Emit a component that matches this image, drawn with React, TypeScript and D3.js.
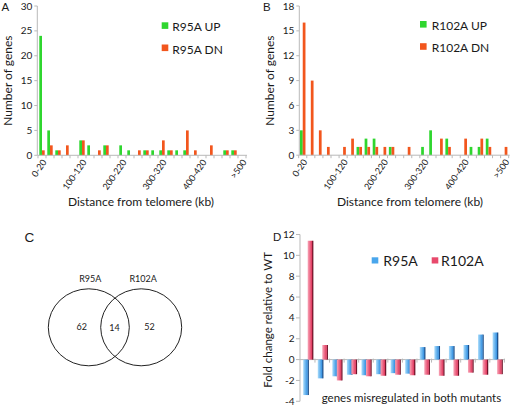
import React from 'react';
import * as d3 from 'd3';

// ---------- data ----------
const distanceBins = [
  '0-20', '20-40', '40-60', '60-80', '80-100', '100-120', '120-140', '140-160', '160-180',
  '180-200', '200-220', '220-240', '240-260', '260-280', '280-300', '300-320', '320-340',
  '340-360', '360-380', '380-400', '400-420', '420-440', '440-460', '460-480', '480-500', '>500',
];
const shownBins = ['0-20', '100-120', '200-220', '300-320', '400-420', '>500'];

const r95aUp = [24, 5, 1, 0, 0, 3, 2, 0, 2, 0, 2, 1, 0, 1, 1, 1, 1, 1, 1, 0, 0, 0, 0, 1, 1, 0];
const r95aDn = [1, 2, 1, 2, 0, 3, 0, 1, 2, 0, 0, 0, 1, 1, 0, 3, 1, 0, 5, 1, 0, 2, 0, 1, 1, 0];
const r102aUp = [3, 0, 0, 0, 0, 0, 0, 1, 2, 2, 0, 1, 0, 0, 0, 1, 3, 0, 2, 0, 0, 1, 1, 2, 0, 0];
const r102aDn = [16, 9, 3, 1, 0, 1, 2, 1, 1, 1, 1, 1, 0, 1, 0, 0, 0, 2, 1, 0, 2, 0, 2, 1, 0, 1];

const ticksA = [0, 5, 10, 15, 20, 25, 30];
const ticksB = [0, 3, 6, 9, 12, 15, 18];

const genes = ['g1', 'g2', 'g3', 'g4', 'g5', 'g6', 'g7', 'g8', 'g9', 'g10', 'g11', 'g12', 'g13', 'g14'];
const foldR95A = [-3.4, -1.8, -1.6, -1.45, -1.5, -1.4, -1.3, -1.35, 1.2, 1.3, 1.3, 1.4, 2.4, 2.6];
const foldR102A = [11.4, 1.4, -2.0, -1.4, -1.6, -1.55, -1.45, -1.5, -1.45, -1.55, -1.55, -1.25, -1.45, -1.4];
const ticksD = [-4, -2, 0, 2, 4, 6, 8, 10, 12];

const vennSets = ['R95A', 'R102A'];
const vennCounts = [62, 14, 52];

// ---------- styles ----------
const FONT = 'Lato, "Open Sans", sans-serif';
const PANEL_FONT = '"Liberation Sans", Arial, sans-serif';
const GREEN = '#2fd62f';
const ORANGE = '#f2561d';
const AXIS = '#b9b9b9';
const TEXT = '#1a1a1a';

type HistProps = {
  axisX: number; bandStart: number; bandEnd: number; y0: number; y1: number; maxY: number;
  ticks: number[]; up: number[]; dn: number[]; names: string[];
  legendX: number; legendTextX: number; legendY: number; titleX: number; ylabelX: number;
  panel: string; panelX: number;
};

function Histogram(p: HistProps) {
  const x = d3.scaleBand<string>().domain(distanceBins).range([p.bandStart, p.bandEnd]).padding(0);
  const x1 = d3.scaleBand<string>().domain(['up', 'dn']).range([0, x.bandwidth()]).paddingInner(0).paddingOuter(0.48);
  const y = d3.scaleLinear().domain([0, p.maxY]).range([p.y0, p.y1]);
  const series = [
    { key: 'up', vals: p.up, color: GREEN },
    { key: 'dn', vals: p.dn, color: ORANGE },
  ];
  return (
    <g>
      <text x={p.panelX} y={10.5} fontFamily={PANEL_FONT} fontSize={11.5} fill={TEXT}>{p.panel}</text>
      {/* y axis */}
      <line x1={p.axisX} x2={p.axisX} y1={y(p.maxY)} y2={p.y0} stroke={AXIS} strokeWidth={1} />
      {p.ticks.map((t) => (
        <g key={t}>
          <line x1={p.axisX - 3} x2={p.axisX} y1={y(t)} y2={y(t)} stroke={AXIS} />
          <text x={p.axisX - 5} y={y(t)} dy="0.35em" textAnchor="end" fontFamily={FONT} fontSize={10} fill={TEXT}>{t}</text>
        </g>
      ))}
      <text transform={`translate(${p.ylabelX},${(p.y0 + y(p.maxY)) / 2}) rotate(-90)`} dy="0.35em" textAnchor="middle"
        fontFamily={FONT} fontSize={12} fill={TEXT}>Number of genes</text>
      {/* bars */}
      {series.map((s) =>
        s.vals.map((v, i) => v > 0 ? (
          <rect key={s.key + i} x={(x(distanceBins[i]) as number) + (x1(s.key) as number)} width={x1.bandwidth()}
            y={y(v)} height={p.y0 - y(v)} fill={s.color} />
        ) : null)
      )}
      {/* x axis */}
      <line x1={p.axisX} x2={p.bandEnd + 1} y1={p.y0} y2={p.y0} stroke={AXIS} />
      {distanceBins.map((c) => (
        <line key={c} x1={x(c) as number} x2={x(c) as number} y1={p.y0} y2={p.y0 + 3} stroke={AXIS} />
      ))}
      <line x1={p.bandEnd} x2={p.bandEnd} y1={p.y0} y2={p.y0 + 3} stroke={AXIS} />
      {shownBins.map((c) => {
        const cx = (x(c) as number) + x.bandwidth() / 2;
        return (
          <text key={c} transform={`translate(${cx + 2.5},${p.y0 + 5}) rotate(-55)`} dy="0.35em" textAnchor="end"
            fontFamily={FONT} fontSize={9} fill={TEXT}>{c}</text>
        );
      })}
      <text x={p.titleX} y={206} textAnchor="middle" fontFamily={FONT} fontSize={12} fill={TEXT}>Distance from telomere (kb)</text>
      {/* legend */}
      {series.map((s, i) => (
        <g key={s.key}>
          <rect x={p.legendX} y={p.legendY + i * 22.2} width={6.6} height={6.6} fill={s.color} />
          <text x={p.legendTextX} y={p.legendY + 9 + i * 22.2} fontFamily={FONT} fontSize={12} fill={TEXT}>{p.names[i]}</text>
        </g>
      ))}
    </g>
  );
}

function Venn() {
  const cy = 327.3;
  const centers = [88.8, 141.2];
  return (
    <g>
      <text x={24.5} y={241.5} fontFamily={PANEL_FONT} fontSize={13.5} fill={TEXT}>C</text>
      {centers.map((cx, i) => (
        <g key={i}>
          <ellipse cx={cx} cy={cy} rx={40.5} ry={38.5} fill="none" stroke="#222" strokeWidth={1} />
          <text x={cx + (i === 0 ? 1.5 : 2)} y={282} textAnchor="middle" fontFamily={FONT} fontSize={9} fill={TEXT}>{vennSets[i]}</text>
        </g>
      ))}
      <text x={81.7} y={330} textAnchor="middle" fontFamily={FONT} fontSize={9} fill={TEXT}>{vennCounts[0]}</text>
      <text x={114.5} y={330.5} textAnchor="middle" fontFamily={FONT} fontSize={9} fill={TEXT}>{vennCounts[1]}</text>
      <text x={149.5} y={330} textAnchor="middle" fontFamily={FONT} fontSize={9} fill={TEXT}>{vennCounts[2]}</text>
    </g>
  );
}

function FoldChart() {
  const axisX = 300;
  const x0 = d3.scaleBand<string>().domain(genes).range([300.4, 504.4]).padding(0);
  const x1 = d3.scaleBand<string>().domain(['R95A', 'R102A']).range([0, x0.bandwidth()]).paddingInner(0).paddingOuter(0.62);
  const y = d3.scaleLinear().domain([-4, 12]).range([401.3, 234.5]);
  const series = [
    { key: 'R95A', vals: foldR95A, grad: 'url(#gBlue)', side: '#1c4c86', legend: '#49a6ec' },
    { key: 'R102A', vals: foldR102A, grad: 'url(#gPink)', side: '#6e1328', legend: '#e8496c' },
  ];
  const bw = x1.bandwidth();
  return (
    <g>
      <defs>
        <linearGradient id="gBlue" x1="0" x2="1" y1="0" y2="0">
          <stop offset="0%" stopColor="#a9dcfb" />
          <stop offset="100%" stopColor="#2e8de0" />
        </linearGradient>
        <linearGradient id="gPink" x1="0" x2="1" y1="0" y2="0">
          <stop offset="0%" stopColor="#f8a6b8" />
          <stop offset="100%" stopColor="#e1335a" />
        </linearGradient>
      </defs>
      <text x={273} y={240.5} fontFamily={PANEL_FONT} fontSize={11.5} fill={TEXT}>D</text>
      <line x1={axisX} x2={axisX} y1={y(12)} y2={y(-4)} stroke={AXIS} />
      {ticksD.map((t) => (
        <g key={t}>
          <line x1={axisX - 4} x2={axisX} y1={y(t)} y2={y(t)} stroke={AXIS} />
          <text x={axisX - 5.5} y={y(t)} dy="0.35em" textAnchor="end" fontFamily={FONT} fontSize={10} fill={TEXT}>{t}</text>
        </g>
      ))}
      <text transform={`translate(268.3,${(y(12) + y(-4)) / 2 + 2}) rotate(-90)`} dy="0.35em" textAnchor="middle"
        fontFamily={FONT} fontSize={11.5} fill={TEXT}>Fold change relative to WT</text>
      <line x1={axisX} x2={505} y1={y(0)} y2={y(0)} stroke={AXIS} />
      {genes.map((g) => (
        <line key={g} x1={(x0(g) as number) + x0.bandwidth()} x2={(x0(g) as number) + x0.bandwidth()}
          y1={y(0) - 1} y2={y(0) + 3} stroke={AXIS} />
      ))}
      {series.map((s) =>
        s.vals.map((v, i) => {
          const bx = (x0(genes[i]) as number) + (x1(s.key) as number);
          const top = Math.min(y(v), y(0));
          const h = Math.abs(y(v) - y(0));
          return (
            <g key={s.key + i}>
              <rect x={bx + bw - 0.2} y={top} width={1.4} height={h} fill={s.side} />
              <rect x={bx} y={top} width={bw} height={h} fill={s.grad} />
            </g>
          );
        })
      )}
      {series.map((s, i) => (
        <g key={s.key}>
          <rect x={i === 0 ? 371.7 : 431.7} y={257.3} width={6.6} height={6.2} fill={s.legend} />
          <text x={i === 0 ? 383.3 : 441} y={265.8} fontFamily={FONT} fontSize={14} fill={TEXT}>{s.key}</text>
        </g>
      ))}
      <text x={321.7} y={402} fontFamily={FONT} fontSize={11.5} fill={TEXT}>genes misregulated in both mutants</text>
    </g>
  );
}

export default function App() {
  return (
    <svg width={510} height={409} viewBox="0 0 510 409"
      style={{ position: 'absolute', left: 0, top: 0, background: '#fff', display: 'block' }}>
      <rect x={0} y={0} width={510} height={409} fill="#fff" />
      <Histogram axisX={37.3} bandStart={38} bandEnd={246} y0={155.3} y1={6} maxY={30} ticks={ticksA}
        up={r95aUp} dn={r95aDn} names={['R95A UP', 'R95A DN']} legendX={161.7} legendTextX={172.3} legendY={22.3}
        titleX={141} ylabelX={7.5} panel="A" panelX={1.5} />
      <Histogram axisX={299.3} bandStart={298.7} bandEnd={508.7} y0={155.2} y1={6} maxY={18} ticks={ticksB}
        up={r102aUp} dn={r102aDn} names={['R102A UP', 'R102A DN']} legendX={420} legendTextX={431.7} legendY={21}
        titleX={410} ylabelX={269.5} panel="B" panelX={263} />
      <Venn />
      <FoldChart />
    </svg>
  );
}
